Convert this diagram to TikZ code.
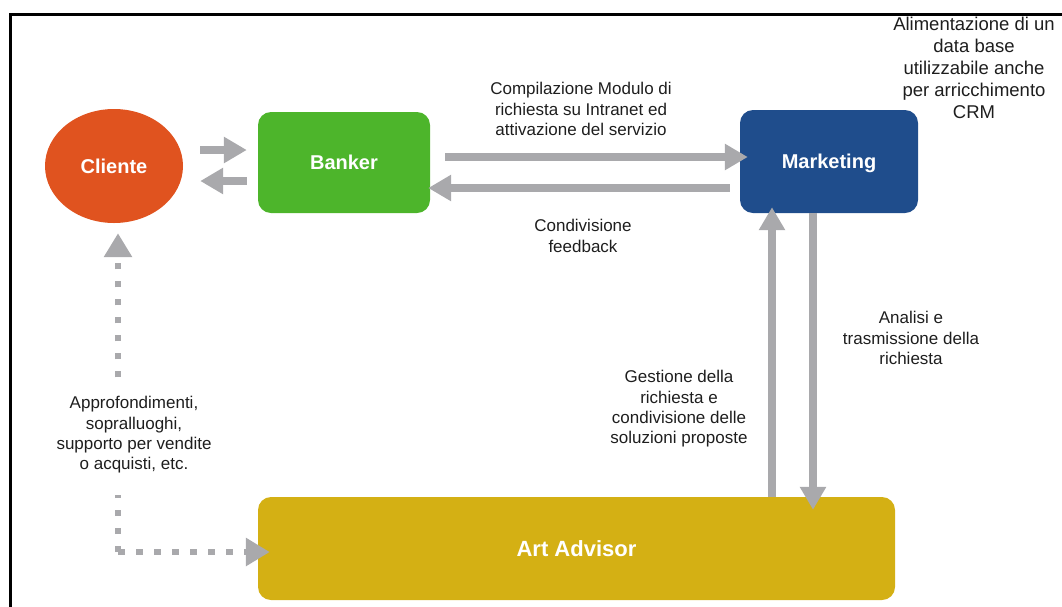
\documentclass[tikz,border=0pt]{standalone}
\usepackage{fontspec}
\setmainfont{Liberation Sans}
\usetikzlibrary{shapes.geometric,arrows.meta}

\definecolor{clienteRed}{HTML}{E0531F}
\definecolor{bankerGreen}{HTML}{4DB52B}
\definecolor{mktBlue}{HTML}{1F4D8C}
\definecolor{advisorGold}{HTML}{D4B014}
\definecolor{arrowGray}{HTML}{A9A9AC}
\definecolor{textDark}{HTML}{1E1E1E}

\tikzset{
  actor/.style={draw=none, text=white, font=\fontsize{20}{24}\selectfont\bfseries, inner sep=0pt,
                text height=14.3pt, text depth=0pt},
  boxnode/.style={actor, rectangle, rounded corners=13pt},
  note/.style={align=center, text=textDark, font=\fontsize{17}{20.3}\selectfont, inner sep=1pt},
  fat/.style={draw=arrowGray, line width=7.5pt, -{Triangle[width=25pt,length=23pt]}},
  dotline/.style={draw=arrowGray, line width=6.5pt, dash pattern=on 6.5pt off 11.5pt},
  dottip/.style={-{Triangle[width=27pt,length=24pt]}}
}

\begin{document}
\begin{tikzpicture}[x=1pt, y=-1pt]
  \useasboundingbox (0,0) rectangle (1062,606);

  % frame (left and top edges)
  \draw[line width=3pt, line cap=rect] (10,606) -- (10,14) -- (1062,14);

  % main actors
  \node[actor, ellipse, fill=clienteRed, minimum width=138pt, minimum height=114pt] (Cliente) at (114,166) {Cliente};
  \node[boxnode, fill=bankerGreen, minimum width=172pt, minimum height=101pt] (Banker) at (344,162.5) {Banker};
  \node[boxnode, fill=mktBlue, minimum width=178pt, minimum height=103pt] (Marketing) at (829,161.5) {Marketing};
  \node[boxnode, fill=advisorGold, minimum width=637pt, minimum height=103pt,
        font=\fontsize{22}{26}\selectfont\bfseries, text height=15.8pt] (Advisor) at (576.5,548.5) {Art Advisor};

  % Cliente <-> Banker
  \draw[fat] ([xshift=17pt,yshift=16pt]Cliente.east) -- ([xshift=-11pt,yshift=12.5pt]Banker.west);
  \draw[fat] ([xshift=-11pt,yshift=-18.5pt]Banker.west) -- ([xshift=17pt,yshift=-15pt]Cliente.east);

  % Banker <-> Marketing
  \draw[fat] ([xshift=15pt,yshift=5.5pt]Banker.east) -- ([xshift=8pt,yshift=4.5pt]Marketing.west);
  \draw[fat] ([xshift=-10pt,yshift=-26.5pt]Marketing.west) -- ([xshift=-2pt,yshift=-25.5pt]Banker.east);

  % Marketing <-> Art Advisor
  \draw[fat, shorten >=-6pt] ([xshift=-57pt]Marketing.south |- Advisor.north) -- ([xshift=-57pt]Marketing.south);
  \draw[fat, shorten >=-13pt] ([xshift=-16pt]Marketing.south) -- ([xshift=-16pt]Marketing.south |- Advisor.north);

  % labels
  \node[note] (lblModulo) at (581,109) {Compilazione Modulo di\\richiesta su Intranet ed\\attivazione del servizio};
  \node[note] (lblFeedback) at (583,236) {Condivisione\\feedback};
  \node[note, font=\fontsize{18.5}{22}\selectfont] (lblCRM) at (974,68) {Alimentazione di un\\data base\\utilizzabile anche\\per arricchimento\\CRM};
  \node[note] (lblAnalisi) at (911,338) {Analisi e\\trasmissione della\\richiesta};
  \node[note] (lblGestione) at (679,409) {Gestione della\\richiesta e\\condivisione delle\\soluzioni proposte};
  \node[note] (lblSupporto) at (134,435) {Approfondimenti,\\sopralluoghi,\\supporto per vendite\\o acquisti, etc.};

  % dotted support path between Cliente and Art Advisor
  \coordinate (corner) at (118,552);
  \draw[dotline, shorten >=20pt] (corner) -- (corner |- lblSupporto.south);
  \draw[dotline, dottip, shorten <=18pt, shorten >=10pt] (corner |- lblSupporto.north) -- (corner |- Cliente.south);
  \draw[dotline, dottip, shorten >=-12pt] (corner) -- (corner -| Advisor.west);
\end{tikzpicture}
\end{document}
